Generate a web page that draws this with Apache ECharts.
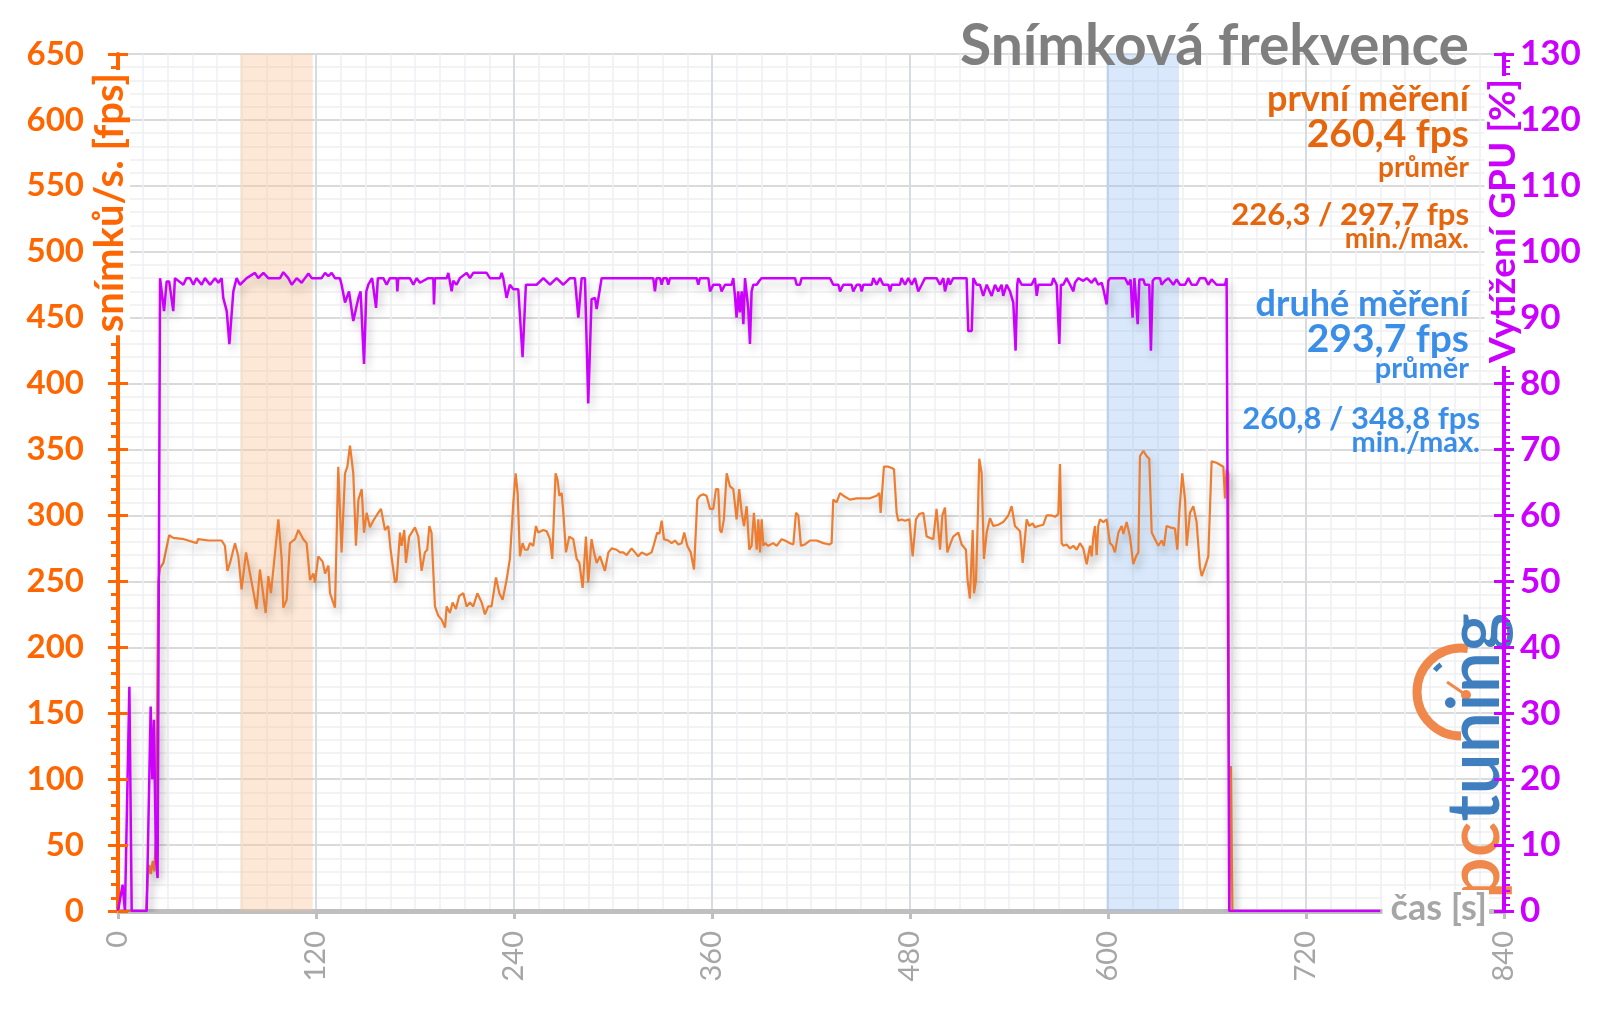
<!DOCTYPE html>
<html>
	<head>
		<meta charset="utf-8" />
		<title>Snímková frekvence</title>
		<script src="https://cdn.jsdelivr.net/npm/echarts@6/dist/echarts.min.js"></script>
		<style>
			html, body { margin: 0; padding: 0; background: #fff; }
			#main { width: 1600px; height: 1009px; }
		</style>
	</head>
	<body>
		<div id="main"></div>
	</body>
	<script type="text/javascript">
		// osa x: čas [s], levá osa: fps, pravá osa: vytížení GPU [%]
		var xMax = 840, xStep = 120;
		var fpsMax = 650, fpsStep = 50;
		var gpuMax = 130, gpuStep = 10;

		// zvýrazněné úseky měření [od, do] v sekundách
		var firstRun = [74, 118];
		var secondRun = [599, 643];

		var titleText = 'Snímková frekvence';
		var firstLabels = ['první měření', '260,4 fps', 'průměr', '226,3 / 297,7 fps', 'min./max.'];
		var secondLabels = ['druhé měření', '293,7 fps', 'průměr', '260,8 / 348,8 fps', 'min./max.'];

		// [čas, fps]
		var fpsPoints = [
			[0,0],[17,0],[18,25],[19,35],[20,28],[21,38],[22,30],[23,55],[24.4,250],[25.5,260],[27.5,264],[31,285],[33.5,283],[40,282],[47.7,279],[48.5,282],[55,281],[62.8,281],
			[64.8,277],[66.3,258],[67.9,264],[70.9,279],[72.9,269],[74.9,244],[77.6,272],[80,256],[84,229],[86,259],[89.5,226],[91.1,254],[92.7,241],[97.2,297],[99.2,267],[100.2,230],
			[102.2,236],[104.2,279],[107.3,282],[109.3,289],[112.3,282],[114.3,279],[116.4,251],[118.4,256],[119.4,249],[121.4,269],[124,265],[125.5,256],[127.5,262],[128.5,241],[131.5,230],
			[133.5,337],[135.5,272],[137.6,332],[139,337],[140.6,353],[142.6,332],[144.2,277],[145.7,312],[147.7,320],[149.1,287],[150.7,302],[152.7,291],[154.7,296],[156.7,300],[159.4,305],
			[161.8,289],[163.8,292],[165.2,274],[167.9,249],[168.9,251],[170.9,287],[171.9,277],[173.5,289],[174.5,264],[176.5,284],[178,287],[180,291],[182,284],[184,258],[186,272],[187.4,274],
			[188.7,292],[190,287],[192.1,231],[194.1,224],[196.1,221],[198.2,215],[199.2,231],[201.2,226],[202.8,234],[204.8,229],[206.8,239],[209.3,241],[211.3,231],[213.3,234],[215.3,231],
			[217.8,241],[220.4,234],[222.4,225],[224.4,231],[226.4,231],[229.1,253],[231.1,241],[233.1,236],[235.5,251],[237.5,267],[239.6,310],[241,332],[242.2,317],[243.6,269],[245.2,279],
			[246.6,274],[248.3,274],[249.7,279],[251.7,277],[253.3,292],[254.7,287],[257.8,289],[259.8,288],[261.8,282],[263.2,267],[265.2,332],[266.4,327],[267.5,315],[268.9,317],[269.9,302],
			[271.5,272],[273.5,284],[275.9,282],[278,267],[279.6,264],[281.6,245],[283.6,284],[285,249],[287,282],[288.5,272],[290.1,264],[292.1,269],[295.1,258],[297.2,272],[299.2,275],
			[302.2,274],[304.2,272],[306.2,272],[308.3,270],[311.3,275],[313.3,272],[315.3,269],[317.4,272],[320.4,270],[323.4,272],[324.8,278],[326.8,287],[328.1,286],[329.5,296],[330.9,282],
			[333.5,281],[335.5,279],[337.6,281],[339.6,278],[341.6,279],[343.2,287],[345,277],[347.1,272],[349.1,259],[351.1,312],[352.7,315],[354.7,316],[356.7,315],[358.8,305],[360.8,305],
			[362.4,320],[363.8,320],[364.8,289],[365.8,287],[367.2,297],[368.9,332],[370.9,322],[372.9,320],[374.9,297],[376.5,320],[378,302],[379.4,292],[381,307],[382.6,274],[384,277],
			[385.4,302],[387.1,274],[388.1,297],[389.1,272],[390.1,297],[391.1,277],[392.1,279],[394.1,277],[397.1,279],[399.2,277],[402.2,282],[404.2,281],[407.3,279],[409.3,278],[410.9,302],
			[412.3,300],[413.9,277],[416.3,278],[419.4,281],[423.4,281],[427.5,279],[431.1,278],[432.5,279],[433.5,312],[435.5,310],[437.6,317],[439.6,315],[443.6,312],[447.7,313],[451.7,313],
			[455.7,313],[459.8,315],[461.4,317],[462.2,302],[464.2,337],[466.9,337],[468.9,336],[470.3,335],[471.9,302],[472.9,296],[474.9,297],[477,296],[479.6,297],[481.6,269],[483.6,297],
			[485.6,301],[488.1,302],[490.1,284],[494.1,282],[496.1,305],[498.2,274],[499.6,300],[501.2,306],[502.6,272],[504.6,279],[506.2,284],[509.3,287],[511.3,278],[513.9,274],[514.9,251],
			[516.3,237],[518,289],[518.8,241],[520,251],[520.8,284],[522,343],[523.4,332],[524.8,267],[526.5,287],[528.5,298],[530.5,292],[533.5,293],[536.5,295],[539.6,300],[541.6,307],
			[543.6,292],[546.7,288],[548.3,264],[550.7,297],[552.3,292],[554.3,294],[555.7,291],[557.8,292],[560.8,293],[562.8,300],[565.8,300],[567.9,299],[569.9,301],[570.9,339],[571.9,279],
			[572.9,277],[574.9,278],[577,275],[579,277],[581,274],[583,279],[585,275],[587.1,263],[589.1,277],[590.1,269],[591.1,284],[592.1,292],[593.1,270],[594.1,292],[595.1,297],
			[597.2,295],[599.2,297],[601.2,279],[602.8,277],[604.2,272],[606.3,287],[608.3,292],[609.3,286],[611.3,295],[613.3,284],[615.3,263],[617,269],[618.4,272],[619.4,345],[621.4,349],
			[623.4,345],[625,343],[626.5,287],[628.5,282],[630.5,277],[632.5,281],[633.9,277],[635.5,292],[637.6,291],[640.6,290],[642,274],[643.2,302],[645,332],[646.7,312],[647.7,277],
			[649.7,302],[651.7,307],[653.7,295],[655.7,261],[656.8,254],[658.8,261],[660.8,269],[662.8,341],[665.8,340],[669.9,337],[670.9,313],[671.9,335],[672.9,332],[673.6,0],[674.5,110],
			[675.4,0],[676,0]
		];

		// [čas, GPU %]
		var gpuPoints = [
			[0,0],[2.8,4],[4.2,0],[6.9,34],[8.3,0],[17.4,0],[19.8,31],[20.8,20],[21.8,29],[23,8],[24,5],[25.5,96],[26.5,96],[27.9,91],[29.5,95.5],[31,95.5],[33.5,91],[34.5,96],[39.6,95],
			[41.5,96],[43.6,96],[45.7,95],[47.5,96],[50.7,95],[52.7,96],[55.8,95],[58.8,96],[60.8,95.3],[62.8,96],[63.8,93],[65.9,91],[67.5,86],[69.9,94],[71.9,96],[73.9,95],[78,96],
			[83,96.8],[85,96],[88.1,96.8],[91.1,96],[98.2,96],[100.2,96.9],[103.2,96],[105.3,95],[108.3,96],[111.3,95.3],[113.3,96],[115.4,96.7],[117.4,96],[123.4,96],[125.5,96.8],[127.5,96.3],
			[129.5,96.8],[131.5,96],[134.5,96],[135.5,95],[137.6,92.3],[140,94],[142.6,89.5],[145.7,93],[147,94],[149.1,83],[150.5,94],[151.7,95],[154,96],[156.4,91.5],[157.5,96],[160.8,96],
			[162.8,95],[164.8,96],[168.9,96],[169.3,94],[169.9,96],[176.9,96],[179,95],[181,96],[183,95.3],[188,96],[191.1,96],[191.5,92],[192.1,96],[199.2,96],[200.2,96.8],[202.2,94],
			[203.2,95.6],[205.2,95],[207.2,96],[211.3,96.8],[213.3,96],[215.3,96.8],[223.4,96.8],[225.4,96],[231.5,96],[232.5,96.8],[233.5,96],[235.5,93],[237.5,95],[239.6,94.3],[242.6,94.3],
			[245.2,84],[247.2,95],[253.7,95],[257.8,96],[261.8,95],[265.8,96],[269.9,95],[273.9,96],[276.9,96],[279,90],[281,96],[283,96],[285,77],[287,92.8],[289.1,93],[290.1,91.3],[293.1,96],
			[324.4,96],[325.4,94],[326.4,96],[328.5,96],[329.5,95],[330.5,96],[332.5,96],[333.5,95],[334.5,96],[350.7,96],[351.7,95],[352.7,96],[357.8,96],[358.8,94],[360.8,95],[364.8,95],
			[365.8,94],[367.9,95],[371.9,95],[372.9,96],[373.9,93.3],[374.9,90],[375.9,94],[376.9,90.8],[378,94],[379,89],[380,96],[381,96],[382,91.3],[383,86],[384,94],[385,95],[387.1,95],
			[388.7,95.6],[390.1,96],[410.3,96],[411.3,95],[413.3,95],[414.3,96],[431.5,96],[433.5,95],[436.6,95],[437.6,94],[439.6,95],[444.6,95],[445.6,94],[447.7,95],[449.7,95],[450.7,94],
			[451.7,95],[456.8,95],[457.8,96],[459.8,95],[461.8,96],[463.8,95],[466.9,95],[467.9,94],[468.9,95],[473.9,95],[474.9,96],[477,95],[479,96],[481,95],[483,96],[485,94],[487.1,95],
			[489.1,96],[496.1,96],[498.2,95],[500.2,96],[501.2,94],[503.2,96],[504.2,95],[506.2,96],[514.3,96],[515.3,88],[517.4,88],[518.4,96],[520.4,95],[522.4,95],[524.4,93.3],[526.5,95],
			[529.5,93.3],[531.5,95],[533.5,94],[535.5,95],[536.5,93.3],[538.6,95],[540.6,94],[542.6,92.3],[544,85],[545,95],[545.6,96],[547.7,95],[553.7,95],[555.7,96],[556.8,93.3],[557.8,95],
			[565.8,95],[566.9,96],[568.9,95],[570.5,86],[571.5,95],[572.9,95],[574.9,96],[577,95],[579,94],[580,95.3],[582,96],[585,95.6],[587.1,96],[590.1,95.3],[592.1,96],[594.1,95],
			[596.2,95.3],[597.2,94.3],[599.2,92],[600.2,95.6],[601.2,96],[610.3,96],[612.3,95],[613.7,95.8],[614.9,90],[616,96],[617,96],[618,89],[619,95.8],[621.4,95.8],[622.4,95],[623.4,94.7],
			[625,95],[626,85],[627.1,95.6],[628.5,96],[631.5,96],[632.5,95],[634.5,95.6],[636.6,96],[639.6,95],[641.6,95.8],[643.6,95],[646.7,95],[648.7,96],[650.7,95],[653.7,95],[655.7,96],
			[658.8,96],[660.8,95],[662.8,95.8],[665.8,95],[670.9,95],[671.9,96],[672.9,96],[673.5,0],[765,0]
		];

		var orange = '#ff6600', magenta = '#cc00ff', textOrange = '#e5660d', textBlue = '#3a8ee8';
		var font = 'Lato, "Noto Sans", sans-serif';

		function labelBlock(lines, color, right, mids, sizes) {
			var out = [];
			for (var i = 0; i < lines.length; i++) {
				out.push({
					type: 'text', x: right, y: mids[i], z: 50,
					style: { text: lines[i], fill: color, font: 'bold ' + sizes[i] + 'px ' + font, textAlign: 'right', textVerticalAlign: 'middle' }
				});
			}
			return out;
		}

		var myCharts = echarts.init(document.getElementById('main'));

		var logoOrange = '#f0884c', logoBlue = '#3f7fc0';
		var graphics = [
			{ type: 'text', x: 1469, y: 47, z: 50,
				style: { text: titleText, fill: '#7f7f7f', font: 'bold 57px ' + font, textAlign: 'right', textVerticalAlign: 'middle' } },
			// název levé osy
			{ type: 'text', x: 110, y: 70, rotation: Math.PI / 2, z: 50,
				style: { text: 'snímků/s. [fps]', fill: orange, font: 'bold 40px ' + font, textAlign: 'right', textVerticalAlign: 'middle',
					backgroundColor: '#fff', padding: [0, 3] } },
			// název pravé osy
			{ type: 'text', x: 1503, y: 76, rotation: Math.PI / 2, z: 50,
				style: { text: 'Vytížení GPU [%]', fill: magenta, font: 'bold 37px ' + font, textAlign: 'right', textVerticalAlign: 'middle',
					backgroundColor: '#fff', padding: [0, 3] } },
			// název osy x
			{ type: 'text', x: 1489, y: 908, z: 50,
				style: { text: 'čas [s]', fill: '#a6a6a6', font: 'bold 36px ' + font, textAlign: 'right', textVerticalAlign: 'middle',
					backgroundColor: '#fff', padding: [0, 2, 0, 8] } },
			// logo pctuning
			{ type: 'arc', z: 1, shape: { cx: 1461, cy: 692, r: 44, startAngle: Math.PI * 0.5, endAngle: Math.PI * 1.55, clockwise: true },
				style: { stroke: logoOrange, lineWidth: 9, fill: null } },
			{ type: 'arc', z: 1, shape: { cx: 1461, cy: 692, r: 34, startAngle: Math.PI * 1.22, endAngle: Math.PI * 1.3, clockwise: true },
				style: { stroke: logoBlue, lineWidth: 5, fill: null } },
			{ type: 'line', z: 1, shape: { x1: 1466, y1: 695, x2: 1447, y2: 682 }, style: { stroke: logoOrange, lineWidth: 3 } },
			{ type: 'circle', z: 1, shape: { cx: 1466, cy: 695, r: 5 }, style: { fill: logoOrange } },
			{ type: 'text', x: 1512, y: 899, rotation: Math.PI / 2, z: 1,
				style: { text: '{a|pc}{b|tuning}', textAlign: 'left', textVerticalAlign: 'bottom', font: '600 74px ' + font,
					rich: { a: { fill: logoOrange, font: '600 74px ' + font }, b: { fill: logoBlue, font: '600 74px ' + font } } } }
		];
		graphics = graphics.concat(labelBlock(firstLabels, textOrange, 1469, [99, 134, 168, 215, 239], [36, 39, 28, 31, 28]));
		graphics = graphics.concat(labelBlock(secondLabels, textBlue, 1469, [304, 339, 369, 419, 443], [36, 39, 29, 31, 29]));
		graphics[graphics.length - 2].x = 1480;
		graphics[graphics.length - 1].x = 1480;

		var tickAxisBase = {
			axisLine: { show: false }, axisLabel: { show: false }, splitLine: { show: false },
			axisTick: { show: true, inside: true, length: 10, lineStyle: { width: 3 } }
		};

		var option = {
			animation: false,
			backgroundColor: '#fff',
			grid: { left: 118, right: 96, top: 54, bottom: 98 },
			xAxis: {
				type: 'value', min: 0, max: xMax, interval: xStep,
				axisLine: { lineStyle: { color: '#bfbfbf', width: 5 } },
				axisTick: { show: true, length: 8, lineStyle: { color: '#bfbfbf', width: 3 } },
				minorTick: { show: false, splitNumber: 8 },
				axisLabel: { rotate: 90, margin: 20, color: '#a6a6a6', fontSize: 29, fontFamily: font },
				splitLine: { show: true, lineStyle: { color: '#d7dbe4', width: 2 } },
				minorSplitLine: { show: true, lineStyle: { color: '#eef0f3', width: 1.5 } }
			},
			yAxis: [
				{
					type: 'value', position: 'left', min: 0, max: fpsMax, interval: fpsStep,
					axisLine: { show: true, lineStyle: { color: orange, width: 4 } },
					axisTick: { show: true, length: 10, lineStyle: { color: orange, width: 3 } },
					minorTick: { show: true, splitNumber: 5, length: 7, lineStyle: { color: orange, width: 3 } },
					axisLabel: { margin: 34, color: orange, fontSize: 33, fontWeight: 'bold', fontFamily: font },
					splitLine: { show: true, lineStyle: { color: '#dadada', width: 2 } },
					minorSplitLine: { show: true, lineStyle: { color: '#efefef', width: 1.5 } }
				},
				{
					type: 'value', position: 'right', min: 0, max: gpuMax, interval: gpuStep, z: 5,
					axisLine: { show: true, lineStyle: { color: magenta, width: 4 } },
					axisTick: { show: true, length: 10, lineStyle: { color: magenta, width: 3 } },
					minorTick: { show: true, splitNumber: 10, length: 6, lineStyle: { color: magenta, width: 2 } },
					axisLabel: { margin: 16, color: magenta, fontSize: 35, fontWeight: 'bold', fontFamily: font },
					splitLine: { show: false }
				},
				// kříž u hlavních značek
				echarts.util.merge({ type: 'value', position: 'left', min: 0, max: fpsMax, interval: fpsStep, z: 5,
					axisTick: { lineStyle: { color: orange } } }, tickAxisBase),
				echarts.util.merge({ type: 'value', position: 'right', min: 0, max: gpuMax, interval: gpuStep, z: 5,
					axisTick: { lineStyle: { color: magenta } } }, tickAxisBase)
			],
			series: [
				{
					name: 'fps', type: 'line', yAxisIndex: 0, data: fpsPoints, showSymbol: false, z: 3,
					lineStyle: { color: '#ed7d31', width: 2.2, shadowColor: 'rgba(0,0,0,0.25)', shadowBlur: 9, shadowOffsetX: 3, shadowOffsetY: 6 },
					markArea: {
						silent: true,
						data: [
							[{ xAxis: firstRun[0], itemStyle: { color: 'rgba(250,195,150,0.38)' } }, { xAxis: firstRun[1] }],
							[{ xAxis: secondRun[0], itemStyle: { color: 'rgba(150,195,245,0.36)' } }, { xAxis: secondRun[1] }]
						]
					}
				},
				{
					name: 'GPU', type: 'line', yAxisIndex: 1, data: gpuPoints, showSymbol: false, z: 4,
					lineStyle: { color: magenta, width: 2.5, shadowColor: 'rgba(0,0,0,0.22)', shadowBlur: 9, shadowOffsetX: 3, shadowOffsetY: 6 }
				}
			],
			graphic: graphics
		};
		myCharts.setOption(option);
	</script>
</html>
